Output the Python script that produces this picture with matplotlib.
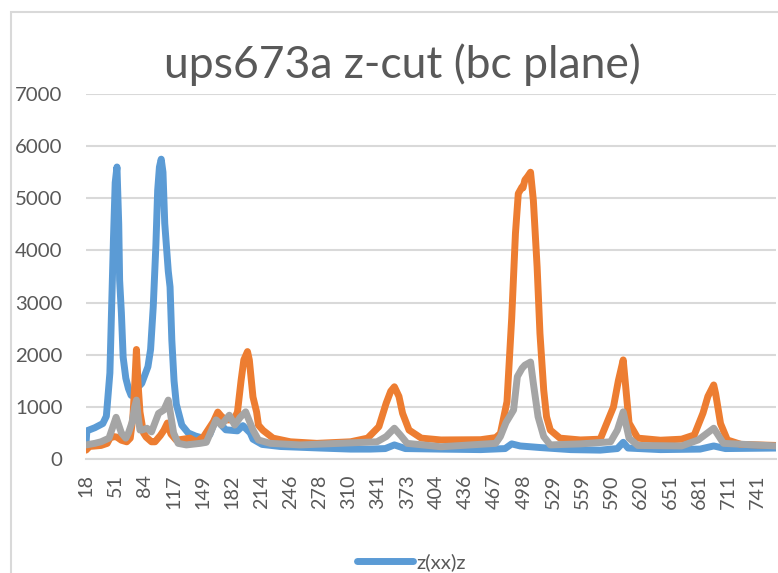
import numpy as np
import matplotlib
matplotlib.use("Agg")
import matplotlib.pyplot as plt
from matplotlib.patches import Rectangle

# ── Data (Raman shift in cm-1, intensity in counts) ──────────────────────────
TICK_WN = [18, 51, 84, 117, 149, 182, 214, 246, 278, 310, 341, 373,
           404, 436, 467, 498, 529, 559, 590, 620, 651, 681, 711, 741]

xx_wn = [18, 19, 28, 37, 41, 45, 49, 51, 53, 55, 56, 58, 60, 63, 66, 69, 74,
         81, 88, 91, 94, 97, 99, 101, 103, 105, 107, 111, 113, 115, 117.5, 120,
         126, 133, 141, 149, 157, 164, 170, 175, 188, 194, 202, 205, 215,
         235, 279, 312, 333, 349, 359, 371, 408, 452, 478, 485, 494, 515,
         547, 578, 596, 602, 607, 641, 682, 696, 708, 760]
xx_val = [300, 540, 600, 680, 820, 1650, 4200, 5300, 5600, 4500, 3430, 2800,
          1950, 1550, 1350, 1220, 1330, 1450, 1770, 2100, 2920, 4100, 5150,
          5600, 5750, 5500, 4520, 3600, 3300, 2280, 1500, 1050, 650, 500, 440,
          400, 470, 780, 650, 560, 540, 640, 500, 380, 280, 240, 210, 190, 190,
          200, 270, 200, 190, 180, 200, 290, 250, 220, 180, 170, 200, 320, 210,
          180, 190, 250, 200, 210]

yy_wn = [18, 22, 35, 42, 45, 49, 53, 58, 64, 68, 71, 73, 75, 77, 79, 81, 83,
         86, 92, 96, 102, 106, 110, 114, 120, 135, 142, 150, 161, 166, 170,
         175, 184, 188, 192, 195, 199, 201, 205, 209, 211, 216, 227, 246,
         275, 312, 330, 342, 350, 355, 359, 364, 368, 375, 388, 409, 452, 468,
         473, 480, 485, 489, 492, 496, 497, 499, 502, 505, 508, 512, 515, 519,
         522, 526, 536, 557, 578, 592, 597, 602, 604, 608, 617, 641, 663, 676,
         685, 690, 696, 698, 703, 710, 724, 760]
yy_val = [170, 240, 260, 300, 400, 430, 420, 360, 330, 400, 800, 1400, 2100,
          1400, 900, 700, 500, 420, 330, 330, 450, 550, 690, 480, 360, 400,
          330, 430, 715, 900, 820, 750, 750, 900, 1510, 1900, 2060, 1900, 1190,
          900, 650, 550, 400, 330, 300, 330, 400, 620, 1070, 1300, 1385, 1200,
          875, 555, 400, 365, 370, 410, 490, 1100, 2700, 4330, 5090, 5220, 5200,
          5350, 5420, 5500, 4960, 3680, 2410, 1320, 810, 555, 400, 365, 380,
          1000, 1500, 1900, 1500, 690, 400, 360, 380, 460, 880, 1200, 1420,
          1250, 680, 365, 280, 260]

xy_wn = [18, 28, 35, 44, 48, 52, 55, 58, 63, 66, 70, 73, 75, 77, 79, 81, 87,
         92, 100, 106, 111, 117, 122, 131, 146, 153, 164, 170, 179, 185, 191,
         197, 205, 211, 224, 257, 340, 350, 359, 366, 373, 409, 468, 473, 479,
         487, 491, 496, 499, 505, 508, 513, 519, 526, 557, 589, 596, 602, 608,
         617, 663, 680, 696, 706, 760]
xy_val = [270, 300, 330, 400, 600, 800, 650, 500, 400, 500, 700, 1000, 1130,
          800, 555, 555, 590, 520, 875, 940, 1130, 500, 300, 270, 300, 320, 750,
          650, 840, 650, 800, 905, 555, 365, 300, 270, 330, 430, 590, 450, 300,
          235, 300, 430, 700, 940, 1580, 1740, 1800, 1860, 1450, 810, 430, 270,
          290, 330, 555, 905, 400, 260, 250, 365, 590, 300, 250]

SERIES = [("z(xx)z", xx_wn, xx_val, "#5B9BD5"),
          ("z(yy)z", yy_wn, yy_val, "#ED7D31"),
          ("z(xy)z", xy_wn, xy_val, "#A5A5A5")]

# ── Category-style x axis: labelled shifts are evenly spaced ─────────────────
POS = np.arange(len(TICK_WN), dtype=float)


def wn_to_pos(w):
    w = np.asarray(w, dtype=float)
    p = np.interp(w, TICK_WN, POS)
    p = np.where(w > TICK_WN[-1], POS[-1] + (w - TICK_WN[-1]) / 30.0, p)
    p = np.where(w < TICK_WN[0], (w - TICK_WN[0]) / 33.0, p)
    return p


def pos_to_wn(p):
    p = np.asarray(p, dtype=float)
    w = np.interp(p, POS, TICK_WN)
    w = np.where(p > POS[-1], TICK_WN[-1] + (p - POS[-1]) * 30.0, w)
    w = np.where(p < 0, TICK_WN[0] + p * 33.0, w)
    return w


plt.rcParams["font.family"] = ["Lato", "DejaVu Sans"]
TEXT = "#595959"
GRID = "#D9D9D9"

W, H = 778, 573
fig = plt.figure(figsize=(W / 100, H / 100), dpi=100)
ax = fig.add_axes([86 / W, (H - 459) / H, (776 - 86) / W, (459 - 94) / H])

ax.set_xscale("function", functions=(wn_to_pos, pos_to_wn))

lines = []
for label, wn, val, col in SERIES:
    ln, = ax.plot(wn, val, color=col, lw=5.0, label=label,
                  solid_joinstyle="round", solid_capstyle="round")
    lines.append(ln)

ax.set_xlim(18, 760)
ax.set_ylim(0, 7000)
ax.set_yticks(range(0, 7001, 1000))
ax.set_xticks(TICK_WN)
ax.set_xticklabels([str(t) for t in TICK_WN], rotation=90)
ax.xaxis.set_minor_locator(matplotlib.ticker.NullLocator())

ax.grid(axis="y", color=GRID, lw=1.5)
ax.set_axisbelow(True)
for s in ["top", "right", "left"]:
    ax.spines[s].set_visible(False)
ax.spines["bottom"].set_color(GRID)
ax.spines["bottom"].set_linewidth(1.5)
ax.tick_params(axis="both", length=0, labelcolor=TEXT)
ax.tick_params(axis="y", pad=17, labelsize=14.7)
ax.tick_params(axis="x", pad=11, labelsize=14.2)

fig.text(402 / W, (H - 78) / H, "ups673a z-cut (bc plane)", ha="center",
         va="baseline", fontsize=32, color=TEXT)

# chart area border
fig.patches.append(Rectangle((11 / W, -0.1), 1.2, (H - 12) / H + 0.1,
                             transform=fig.transFigure, fill=False,
                             edgecolor=GRID, lw=1.5))

# only the first legend entry fits inside the chart area
leg = fig.legend(handles=lines[:1], loc="center left",
                 bbox_to_anchor=(357 / W, (H - 562) / H), ncol=1,
                 frameon=False, fontsize=14.7, handlelength=2.75,
                 handletextpad=0.15, labelcolor=TEXT,
                 borderpad=0, borderaxespad=0)

fig.savefig("out.png", dpi=100)
